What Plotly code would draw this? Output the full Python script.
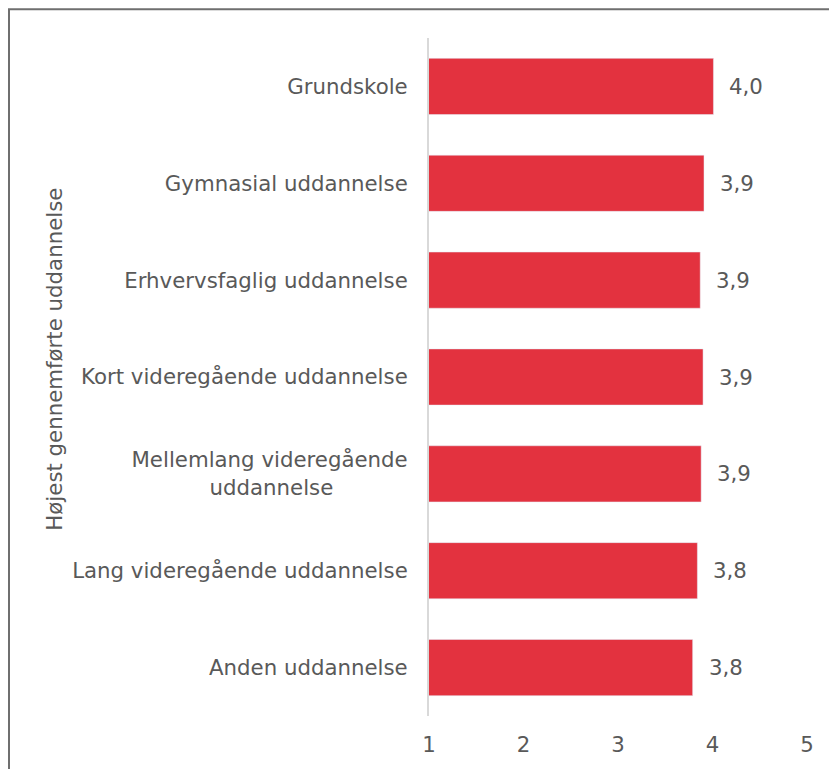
import plotly.graph_objects as go

categories = ['Grundskole', 'Gymnasial uddannelse', 'Erhvervsfaglig uddannelse',
              'Kort videregående uddannelse', 'Mellemlang videregående<br>uddannelse' + '\u00a0' * 11,
              'Lang videregående uddannelse', 'Anden uddannelse']
values = [4.01, 3.91, 3.87, 3.90, 3.88, 3.84, 3.79]
x_ticks = [1, 2, 3, 4, 5]
y_title = 'Højest gennemførte uddannelse'

# page has an 8px body margin, so the figure is a bit smaller than the window
W, H = 829, 761
ML, MR, MT, MB = 421, 30, 30, 46
gray = '#595959'
font = 'DejaVu Sans, Verdana, sans-serif'
fs = 21.3

pw, ph = W - ML - MR, H - MT - MB


def px_x(p):
    return (p - ML) / pw


def px_y(p):
    return 1 - (p - MT) / ph


fig = go.Figure()
fig.add_trace(go.Bar(y=categories, x=values, orientation='h',
                     marker_color='#E3323F', width=0.58, hoverinfo='skip'))

# value labels with decimal comma
for c, v in zip(categories, values):
    fig.add_annotation(x=v, y=c, text=f'{v:.1f}'.replace('.', ','), showarrow=False,
                       xanchor='left', xshift=14, font=dict(size=fs, color=gray, family=font))

# axis title placed by hand (it is not centred on the plot area)
fig.add_annotation(x=px_x(47), y=px_y(355), xref='paper', yref='paper', text=y_title,
                   textangle=-90, showarrow=False, xanchor='center', yanchor='middle',
                   font=dict(size=fs, color=gray, family=font))

# frame around the whole chart (right/bottom edges fall outside the window)
fig.add_shape(type='rect', xref='paper', yref='paper',
              x0=px_x(1), x1=px_x(W + 20), y0=px_y(H + 20), y1=px_y(1),
              line=dict(color='#6F6F6F', width=2), fillcolor='rgba(0,0,0,0)', layer='below')

fig.update_layout(
    width=W, height=H,
    margin=dict(l=ML, r=MR, t=MT, b=MB),
    plot_bgcolor='white', paper_bgcolor='white',
    showlegend=False,
    font=dict(family=font, size=fs, color=gray),
    xaxis=dict(range=[1, 5], tickvals=x_ticks, ticktext=[str(t) for t in x_ticks],
               showgrid=False, zeroline=False, showline=False, ticks='',
               ticklabelstandoff=14, tickfont=dict(size=fs, color=gray)),
    yaxis=dict(categoryorder='array', categoryarray=categories[::-1],
               showgrid=False, zeroline=False, showline=True, linecolor='#D9D9D9', linewidth=2,
               ticks='', ticklabelstandoff=15, tickfont=dict(size=fs, color=gray)),
)

fig.write_html('out.html')
